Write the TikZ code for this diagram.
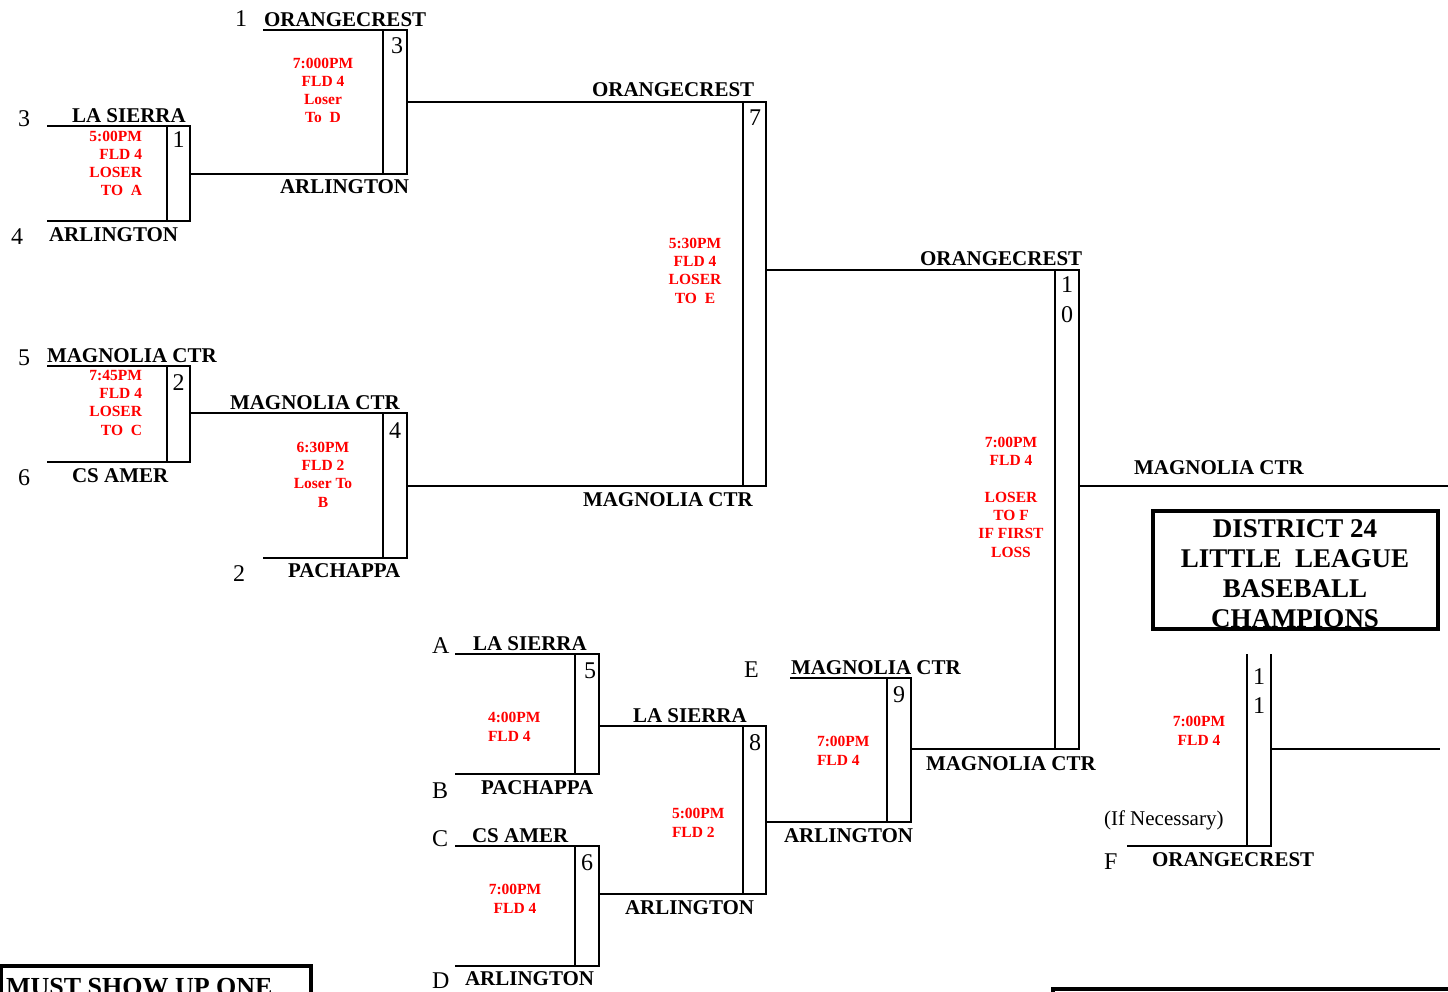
\documentclass[tikz,border=0pt]{standalone}
\usepackage{fontspec}
\setmainfont{Liberation Serif}
\usepackage{xcolor}
\usepackage{tikz}

\begin{document}
\begin{tikzpicture}[x=1pt,y=-1pt,line width=2pt,
    team/.style={anchor=base west,inner sep=0pt,font=\fontsize{21}{24}\selectfont\bfseries},
    seed/.style={anchor=base west,inner sep=0pt,font=\fontsize{24}{28}\selectfont},
    gno/.style={anchor=base,inner sep=0pt,font=\fontsize{24}{28}\selectfont},
    note/.style={inner sep=0pt,text=red,font=\fontsize{15.5}{18.3}\selectfont\bfseries},
    heavy/.style={line width=4pt}]

  \clip (0,0) rectangle (1448,992);

  % Game boxes: top start / bottom start / inner / right / top y / bottom y
  \foreach \xt/\xb/\xi/\xr/\yt/\yb in {47/47/167/190/126/221, 263/190/383/407/30/174,
      47/47/167/190/366/462, 190/263/383/407/413/558, 407/407/743/766/102/486,
      766/911/1055/1079/270/749, 455/455/575/599/654/774, 455/455/575/599/846/966,
      599/599/743/766/726/894, 790/766/887/911/678/822} {
    \draw (\xt,\yt) -- (\xr,\yt) -- (\xr,\yb) -- (\xb,\yb);
    \draw (\xi,\yt) -- (\xi,\yb);
  }

  % Game 11 (if necessary) and champion lines
  \draw (1247,654) -- (1247,846);
  \draw (1271,654) -- (1271,846) -- (1127,846);
  \draw (1271,749) -- (1440,749);
  \draw (1079,486) -- (1448,486);

  % Seeds and loser slots
  \node[seed] (s1) at (234,27) {1};
  \node[seed] (s3) at (17,127) {3};
  \node[seed] (s4) at (10,245) {4};
  \node[seed] (s5) at (17,365) {5};
  \node[seed] (s6) at (17,485) {6};
  \node[seed] (s2) at (232,581) {2};
  \node[seed] (sA) at (431,653) {A};
  \node[seed] (sB) at (431,798) {B};
  \node[seed] (sC) at (431,846) {C};
  \node[seed] (sD) at (431,988) {D};
  \node[seed] (sE) at (743,677) {E};
  \node[seed] (sF) at (1103,869) {F};

  % Game numbers
  \node[gno] (n1) at (178.5,148) {1};
  \node[gno] (n2) at (178.5,390) {2};
  \node[gno] (n3) at (397,54) {3};
  \node[gno] (n4) at (395,438) {4};
  \node[gno] (n5) at (590,678) {5};
  \node[gno] (n6) at (587,870) {6};
  \node[gno] (n7) at (755,126) {7};
  \node[gno] (n8) at (755,750) {8};
  \node[gno] (n9) at (899,702) {9};
  \node[gno] (n10a) at (1067,293) {1};
  \node[gno] (n10b) at (1067,323) {0};
  \node[gno] (n11a) at (1259,684) {1};
  \node[gno] (n11b) at (1259,713) {1};

  % Teams
  \node[team] (g3top) at (263,27) {ORANGECREST};
  \node[team] (g1top) at (71,123) {LA SIERRA};
  \node[team] (g1bot) at (48,242) {ARLINGTON};
  \node[team] (g3bot) at (279,194) {ARLINGTON};
  \node[team] (g7top) at (591,97) {ORANGECREST};
  \node[team] (g2top) at (46,362) {MAGNOLIA CTR};
  \node[team] (g2bot) at (71,482) {CS AMER};
  \node[team] (g4top) at (229,409) {MAGNOLIA CTR};
  \node[team] (g4bot) at (287,577) {PACHAPPA};
  \node[team] (g7bot) at (582,506) {MAGNOLIA CTR};
  \node[team] (g10top) at (919,266) {ORANGECREST};
  \node[team] (champ) at (1133,474) {MAGNOLIA CTR};
  \node[team] (g5top) at (472,650) {LA SIERRA};
  \node[team] (g5bot) at (480,794) {PACHAPPA};
  \node[team] (g6top) at (471,842) {CS AMER};
  \node[team] (g6bot) at (464,985) {ARLINGTON};
  \node[team] (g8top) at (632,722) {LA SIERRA};
  \node[team] (g8bot) at (624,914) {ARLINGTON};
  \node[team] (g9top) at (790,674) {MAGNOLIA CTR};
  \node[team] (g9bot) at (783,842) {ARLINGTON};
  \node[team] (g10bot) at (925,770) {MAGNOLIA CTR};
  \node[team] (g11bot) at (1151,866) {ORANGECREST};
  \node[anchor=base west,inner sep=0pt,font=\fontsize{21}{24}\selectfont] (ifnec) at (1103,825) {(If Necessary)};

  % Times and fields (base = last line)
  \node[note,align=right,anchor=base east] (t1) at (143,196) {5:00PM\\FLD 4\\LOSER\\TO~~A};
  \node[note,align=center,anchor=base] (t3) at (323,123) {7:000PM\\FLD 4\\Loser\\To~~D};
  \node[note,align=right,anchor=base east] (t2) at (143,435) {7:45PM\\FLD 4\\LOSER\\TO~~C};
  \node[note,align=center,anchor=base] (t4) at (323,507) {6:30PM\\FLD 2\\Loser To\\B};
  \node[note,align=center,anchor=base] (t7) at (695,303) {5:30PM\\FLD 4\\LOSER\\TO~~E};
  \node[note,align=center,anchor=base] (t10) at (1011,557) {7:00PM\\FLD 4\\[18.3pt]LOSER\\TO F\\IF FIRST\\LOSS};
  \node[note,align=left,anchor=base west] (t5) at (487,741) {4:00PM\\FLD 4};
  \node[note,align=center,anchor=base] (t6) at (515,913) {7:00PM\\FLD 4};
  \node[note,align=left,anchor=base west] (t8) at (671,837) {5:00PM\\FLD 2};
  \node[note,align=left,anchor=base west] (t9) at (816,765) {7:00PM\\FLD 4};
  \node[note,align=center,anchor=base] (t11) at (1199,745) {7:00PM\\FLD 4};

  % Title box
  \node[align=center,anchor=base,inner sep=0pt,font=\fontsize{27}{30}\selectfont\bfseries] (title) at (1295,627)
    {DISTRICT 24\\LITTLE~~LEAGUE\\BASEBALL\\CHAMPIONS};
  \draw[heavy] (1153,511) rectangle (1438,629);

  % Boxes cut off at the foot of the page
  \draw[heavy] (1,966) rectangle (311,1010);
  \node[anchor=base west,inner sep=0pt,font=\fontsize{26}{30}\selectfont\bfseries] (must) at (5,995) {MUST SHOW UP ONE};
  \draw[heavy] (1053,989) rectangle (1460,1010);

\end{tikzpicture}
\end{document}
